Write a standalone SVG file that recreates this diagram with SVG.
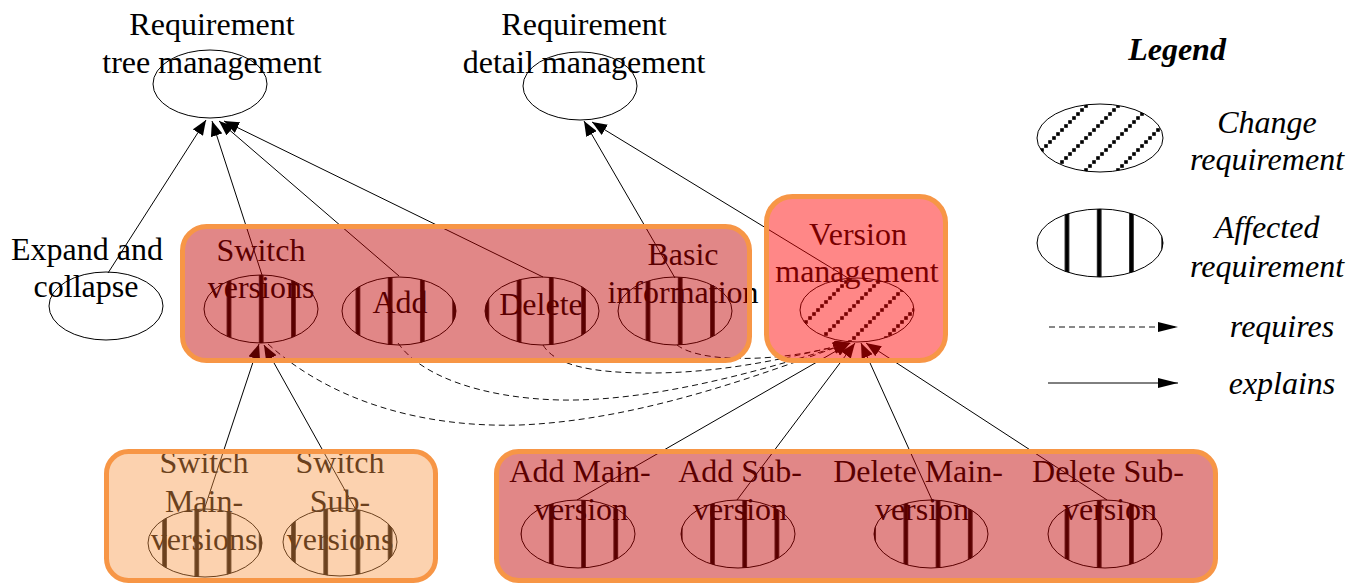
<svg xmlns="http://www.w3.org/2000/svg" width="1350" height="585" viewBox="0 0 1350 585">
  <style>
    .t { font-family: "Liberation Serif", "Times New Roman", serif; font-size: 32px; text-anchor: middle; fill: #000; }
    .it { font-style: italic; }
    .bi { font-style: italic; font-weight: bold; }
    .plain { fill: none; stroke: #000; stroke-width: 1; }
    .aff { fill: url(#vstripe); stroke: #000; stroke-width: 1; }
    .chg { fill: url(#hatch); stroke: #000; stroke-width: 1; }
    .ex { fill: none; stroke: #000; stroke-width: 1; marker-end: url(#ah); }
    .rq { fill: none; stroke: #111; stroke-width: 1; stroke-dasharray: 6 4; marker-end: url(#ah); }
    .cl { stroke: #F79646; stroke-width: 5; }
  </style>
  <defs>
    <!-- vertical bars for affected requirements (shared page phase) -->
    <pattern id="vstripe" patternUnits="userSpaceOnUse" x="-12.725" y="0" width="32.23" height="20">
      <rect x="13.865" y="0" width="4.5" height="20" fill="#000"/>
    </pattern>
    <!-- dotted diagonal hatch for change requirements -->
    <pattern id="hatch" patternUnits="userSpaceOnUse" x="8" y="0" width="32" height="32">
      <g fill="#000">
        <rect x="0.2" y="28.2" width="3.6" height="3.6"/>
        <rect x="4.2" y="24.2" width="3.6" height="3.6"/>
        <rect x="8.2" y="20.2" width="3.6" height="3.6"/>
        <rect x="12.2" y="16.2" width="3.6" height="3.6"/>
        <rect x="16.2" y="12.2" width="3.6" height="3.6"/>
        <rect x="20.2" y="8.2" width="3.6" height="3.6"/>
        <rect x="24.2" y="4.2" width="3.6" height="3.6"/>
        <rect x="28.2" y="0.2" width="3.6" height="3.6"/>
      </g>
    </pattern>
    <marker id="ah" markerUnits="userSpaceOnUse" markerWidth="16" markerHeight="12" refX="15" refY="6" orient="auto">
      <path d="M0,0 L15,6 L0,12 z" fill="#000"/>
    </marker>
    <marker id="ahL" markerUnits="userSpaceOnUse" markerWidth="20" markerHeight="10" refX="20" refY="5" orient="auto">
      <path d="M0,0 L20,5 L0,10 z" fill="#000"/>
    </marker>
  </defs>

  <rect width="1350" height="585" fill="#fff"/>

  <!-- connectors -->
  <g id="connectors">
    <!-- explains -->
    <line class="ex" x1="108" y1="273" x2="206" y2="120"/>
    <line class="ex" x1="262" y1="275" x2="212" y2="121"/>
    <line class="ex" x1="399" y1="276" x2="219" y2="121"/>
    <line class="ex" x1="543" y1="277" x2="224" y2="121"/>
    <line class="ex" x1="675" y1="278" x2="584" y2="121"/>
    <line class="ex" x1="848" y1="278" x2="592" y2="122"/>
    <line class="ex" x1="204" y1="510" x2="259" y2="344"/>
    <line class="ex" x1="356" y1="510" x2="264" y2="345"/>
    <line class="ex" x1="577" y1="500" x2="850" y2="343"/>
    <line class="ex" x1="737" y1="500" x2="855" y2="343"/>
    <line class="ex" x1="932" y1="500" x2="861" y2="343"/>
    <line class="ex" x1="1107" y1="500" x2="866" y2="343"/>
    <!-- requires -->
    <path class="rq" d="M268,344 C330,400 420,428 520,425 C640,420 760,375 848,343"/>
    <path class="rq" d="M398,343 C420,375 480,398 560,400 C660,402 780,365 849,343"/>
    <path class="rq" d="M543,345 C555,365 590,373 650,373 C730,373 800,355 850,343"/>
    <path class="rq" d="M677,345 C690,355 720,360 760,358 C800,356 830,348 851,343"/>
  </g>

  <!-- nodes -->
  <g id="n-tree">
    <ellipse class="plain" cx="210" cy="84" rx="57" ry="34"/>
    <text class="t" x="212" y="35">Requirement</text>
    <text class="t" x="212" y="73">tree management</text>
  </g>
  <g id="n-detail">
    <ellipse class="plain" cx="580" cy="86" rx="57" ry="34"/>
    <text class="t" x="584" y="35">Requirement</text>
    <text class="t" x="584" y="73">detail management</text>
  </g>
  <g id="n-expand">
    <ellipse class="plain" cx="106" cy="306" rx="57" ry="34"/>
    <text class="t" x="87" y="260">Expand and</text>
    <text class="t" x="86" y="297">collapse</text>
  </g>
  <g id="n-switch">
    <ellipse class="aff" cx="261" cy="309" rx="57" ry="34"/>
    <text class="t" x="261" y="261">Switch</text>
    <text class="t" x="261" y="298">versions</text>
  </g>
  <g id="n-add">
    <ellipse class="aff" cx="399" cy="311" rx="57" ry="34"/>
    <text class="t" x="400" y="313">Add</text>
  </g>
  <g id="n-delete">
    <ellipse class="aff" cx="542" cy="311" rx="57" ry="34"/>
    <text class="t" x="541" y="315">Delete</text>
  </g>
  <g id="n-basic">
    <ellipse class="aff" cx="675" cy="311" rx="57" ry="34"/>
    <text class="t" x="683" y="265">Basic</text>
    <text class="t" x="683" y="303">information</text>
  </g>
  <g id="n-version">
    <ellipse class="chg" cx="857" cy="310" rx="57" ry="32"/>
    <text class="t" x="858" y="245">Version</text>
    <text class="t" x="857" y="282">management</text>
  </g>
  <g id="n-switch-main">
    <ellipse class="aff" cx="205" cy="543" rx="57" ry="34"/>
    <text class="t" x="204" y="473">Switch</text>
    <text class="t" x="204" y="512">Main-</text>
    <text class="t" x="204" y="550">versions</text>
  </g>
  <g id="n-switch-sub">
    <ellipse class="aff" cx="340" cy="542" rx="57" ry="34"/>
    <text class="t" x="340" y="473">Switch</text>
    <text class="t" x="340" y="512">Sub-</text>
    <text class="t" x="340" y="550">versions</text>
  </g>
  <g id="n-add-main">
    <ellipse class="aff" cx="578" cy="534" rx="57" ry="34"/>
    <text class="t" x="580" y="482">Add Main-</text>
    <text class="t" x="581" y="520">version</text>
  </g>
  <g id="n-add-sub">
    <ellipse class="aff" cx="738" cy="534" rx="57" ry="34"/>
    <text class="t" x="740" y="482">Add Sub-</text>
    <text class="t" x="740" y="520">version</text>
  </g>
  <g id="n-delete-main">
    <ellipse class="aff" cx="931" cy="534" rx="57" ry="34"/>
    <text class="t" x="918" y="482">Delete Main-</text>
    <text class="t" x="922" y="520">version</text>
  </g>
  <g id="n-delete-sub">
    <ellipse class="aff" cx="1105" cy="534" rx="57" ry="34"/>
    <text class="t" x="1108" y="482">Delete Sub-</text>
    <text class="t" x="1110" y="520">version</text>
  </g>

  <!-- translucent cluster panels laid over their members -->
  <g id="cluster-tree-ops">
    <rect class="cl" x="182.5" y="226.5" width="567" height="134" rx="24" fill="rgb(192,0,0)" fill-opacity="0.47"/>
  </g>
  <g id="cluster-version">
    <rect class="cl" x="766.5" y="196.5" width="179" height="164" rx="26" fill="rgb(255,0,0)" fill-opacity="0.47"/>
  </g>
  <g id="cluster-switch">
    <rect class="cl" x="106.5" y="451.5" width="329" height="129" rx="22" fill="rgb(247,150,70)" fill-opacity="0.43"/>
  </g>
  <g id="cluster-version-ops">
    <rect class="cl" x="496.5" y="451.5" width="719" height="129" rx="22" fill="rgb(192,0,0)" fill-opacity="0.47"/>
  </g>

  <!-- legend -->
  <g id="legend">
    <text class="t bi" x="1177" y="60">Legend</text>
    <ellipse class="chg" cx="1100" cy="138" rx="63" ry="34"/>
    <text class="t it" x="1267" y="133">Change</text>
    <text class="t it" x="1267" y="170">requirement</text>
    <ellipse class="aff" cx="1100" cy="243" rx="63" ry="34"/>
    <text class="t it" x="1267" y="238">Affected</text>
    <text class="t it" x="1267" y="277">requirement</text>
    <line x1="1049" y1="327" x2="1178" y2="327" stroke="#111" stroke-width="1" stroke-dasharray="6 4" marker-end="url(#ahL)"/>
    <text class="t it" x="1282" y="337">requires</text>
    <line x1="1048" y1="383" x2="1178" y2="383" stroke="#000" stroke-width="1" marker-end="url(#ahL)"/>
    <text class="t it" x="1282" y="394">explains</text>
  </g>
</svg>
